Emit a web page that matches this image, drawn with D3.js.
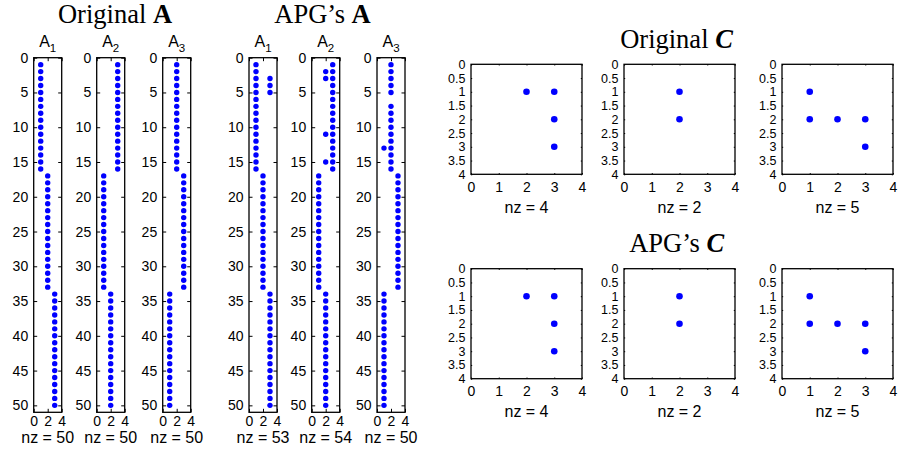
<!DOCTYPE html>
<html><head><meta charset="utf-8">
<script src="https://cdn.jsdelivr.net/npm/d3@7"></script>
<style>body{margin:0;background:#fff} svg{display:block}</style>
</head><body><svg id="c" width="898" height="450"></svg>
<script>
// ---- data: column index of the nonzero in each row (rows 1..50) ----
const origA1 = [1,1,1,1,1,1,1,1,1,1,1,1,1,1,1,1, 2,2,2,2,2,2,2,2,2,2,2,2,2,2,2,2,2, 3,3,3,3,3,3,3,3,3,3,3,3,3,3,3,3,3];
const origA2 = [3,3,3,3,3,3,3,3,3,3,3,3,3,3,3,3, 1,1,1,1,1,1,1,1,1,1,1,1,1,1,1,1,1, 2,2,2,2,2,2,2,2,2,2,2,2,2,2,2,2,2];
const origA3 = [2,2,2,2,2,2,2,2,2,2,2,2,2,2,2,2, 3,3,3,3,3,3,3,3,3,3,3,3,3,3,3,3,3, 1,1,1,1,1,1,1,1,1,1,1,1,1,1,1,1,1];
const apgA1 = [1,1,1,1,1,1,1,1,1,1,1,1,1,1,1,1, 2,2,2,2,2,2,2,2,2,2,2,2,2,2,2,2,2, 3,3,3,3,3,3,3,3,3,3,3,3,3,3,3,3,3];
const apgA2 = [3,3,3,3,3,3,3,3,3,3,3,3,3,3,3,3, 1,1,1,1,1,1,1,1,1,1,1,1,1,1,1,1,1, 2,2,2,2,2,2,2,2,2,2,2,2,2,2,2,2,2];
const apgA3 = [2,2,2,2,2,null,2,2,2,2,2,2,2,2,2,2, 3,3,3,3,3,3,3,3,3,3,3,3,3,3,3,3,3, 1,1,1,1,1,1,1,1,1,1,1,1,1,1,1,1,1];
// extra nonzeros [row, col]
const apgA1Extra = [[3,3],[4,3],[5,3]];
const apgA2Extra = [[2,2],[3,2],[11,2],[15,2]];
const apgA3Extra = [[13,1]];
// C matrices: nonzeros [row, col]
const origC1 = [[1,2],[1,3],[2,3],[3,3]];
const origC2 = [[1,2],[2,2]];
const origC3 = [[1,1],[2,1],[2,2],[2,3],[3,3]];
const apgC1 = [[1,2],[1,3],[2,3],[3,3]];
const apgC2 = [[1,2],[2,2]];
const apgC3 = [[1,1],[2,1],[2,2],[2,3],[3,3]];
// tick labels
const aYTicks = [0,5,10,15,20,25,30,35,40,45,50];
const aXTicks = [0,2,4];
const cYTicks = [0,0.5,1,1.5,2,2.5,3,3.5,4];
const cXTicks = [0,1,2,3,4];
const subTitles = ["1","2","3"];

const svg = d3.select("#c");
const SANS = "'Liberation Sans', Arial, Helvetica, sans-serif";
const SERIF = "'Liberation Serif', 'Times New Roman', serif";

function toPoints(cols, extra) {
  const pts = [];
  cols.forEach((c, i) => { if (c != null) pts.push([i + 1, c]); });
  (extra || []).forEach(p => pts.push(p));
  return pts;
}

function spy(opt) {
  const {x0, y0, w, h, xDom, yDom, xTicks, yTicks, pts, r, tl, xlabBase, xlab, tickLabBase, fmt, yFont} = opt;
  const g = svg.append("g").attr("transform", `translate(${x0},${y0})`);
  const x = d3.scaleLinear().domain(xDom).range([0, w]);
  const y = d3.scaleLinear().domain(yDom).range([0, h]);
  const style = (sel, fs) => {
    sel.select(".domain").remove();
    sel.selectAll(".tick line").attr("stroke", "#000").attr("stroke-width", 1);
    sel.selectAll("text").attr("font-family", SANS).attr("font-size", fs || 14).attr("fill", "#000");
  };
  g.append("g").call(d3.axisLeft(y).tickValues(yTicks).tickSize(-tl).tickPadding(5.5).tickFormat(fmt)).call(style, yFont);
  g.append("g").attr("transform", `translate(${w},0)`).call(d3.axisRight(y).tickValues(yTicks).tickSize(-tl).tickFormat("")).call(style);
  g.append("g").call(d3.axisTop(x).tickValues(xTicks).tickSize(-tl).tickFormat("")).call(style);
  const bx = g.append("g").attr("transform", `translate(0,${h})`).call(d3.axisBottom(x).tickValues(xTicks).tickSize(-tl).tickFormat(d3.format("d"))).call(style);
  bx.selectAll(".tick text").attr("dy", null).attr("y", tickLabBase).attr("dominant-baseline", "alphabetic");
  g.append("rect").attr("width", w).attr("height", h).attr("fill", "none").attr("stroke", "#000").attr("stroke-width", 1.3);
  g.selectAll("circle.pt").data(pts).join("circle").attr("class", "pt")
    .attr("cx", d => x(d[1])).attr("cy", d => y(d[0])).attr("r", r).attr("fill", "#0000ff");
  g.append("text").attr("x", w / 2).attr("y", h + xlabBase).attr("text-anchor", "middle")
    .attr("font-family", SANS).attr("font-size", 16).attr("fill", "#000").text(xlab);
  return g;
}

// A panels
const aGroups = [
  {lefts: [33.7, 96.7, 162.7], mats: [toPoints(origA1), toPoints(origA2), toPoints(origA3)]},
  {lefts: [249, 311.7, 377], mats: [toPoints(apgA1, apgA1Extra), toPoints(apgA2, apgA2Extra), toPoints(apgA3, apgA3Extra)]}
];
aGroups.forEach(gr => {
  gr.lefts.forEach((lx, i) => {
    const g = spy({x0: lx, y0: 57.7, w: 28, h: 354.6, xDom: [0, 4], yDom: [0, 51],
      xTicks: aXTicks, yTicks: aYTicks, pts: gr.mats[i], r: 2.7, tl: 3.5,
      xlabBase: 30.5, xlab: "nz = " + gr.mats[i].length, tickLabBase: 13.5, fmt: d3.format("d")});
    const t = g.append("text").attr("x", 14).attr("y", -11).attr("text-anchor", "middle")
      .attr("font-family", SANS).attr("font-size", 16).attr("fill", "#000");
    t.append("tspan").text("A");
    t.append("tspan").attr("font-size", 11.5).attr("dy", 5).text(subTitles[i]);
  });
});

// C panels
const cRows = [
  {top: 64.3, mats: [origC1, origC2, origC3], xlabBase: 39, tickBase: 17.5},
  {top: 268.7, mats: [apgC1, apgC2, apgC3], xlabBase: 38.7, tickBase: 17.3}
];
const cLefts = [471, 624, 782];
const cFmt = d => (d % 1 === 0 ? d3.format("d")(d) : d3.format(".1f")(d));
cRows.forEach(row => {
  cLefts.forEach((lx, i) => {
    spy({x0: lx, y0: row.top, w: 111, h: 110, xDom: [0, 4], yDom: [0, 4],
      xTicks: cXTicks, yTicks: cYTicks, pts: row.mats[i], r: 3.3, tl: 1.2, yFont: 12.5,
      xlabBase: row.xlabBase, xlab: "nz = " + row.mats[i].length, tickLabBase: row.tickBase, fmt: cFmt});
  });
});

// main titles
function title(cx, base, pre, sym, italic) {
  const t = svg.append("text").attr("x", cx).attr("y", base).attr("text-anchor", "middle")
    .attr("font-family", SERIF).attr("font-size", 26.5).attr("fill", "#000");
  t.append("tspan").text(pre);
  t.append("tspan").attr("font-weight", "bold").attr("font-style", italic ? "italic" : "normal").text(sym);
}
title(115, 23.3, "Original ", "A", false);
title(322.5, 23.3, "APG\u2019s ", "A", false);
title(676.5, 48.3, "Original ", "C", true);
title(676.7, 252, "APG\u2019s ", "C", true);
</script></body></html>
